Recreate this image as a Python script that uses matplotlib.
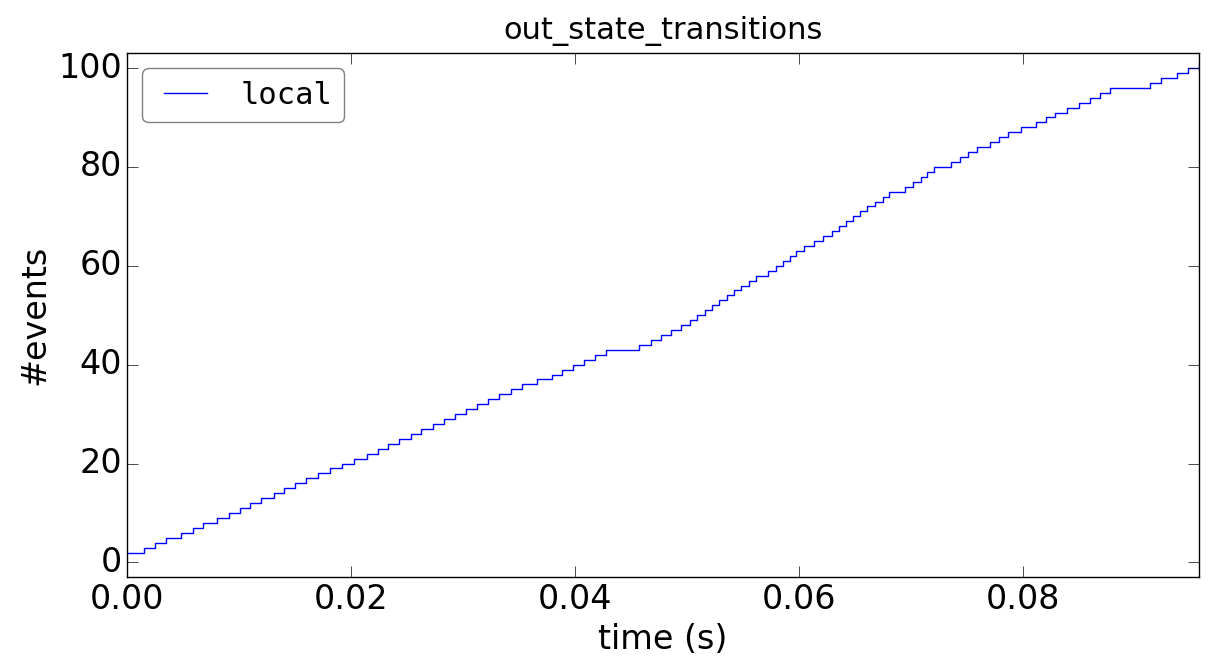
import matplotlib
matplotlib.use("Agg")
import matplotlib.pyplot as plt

# time (s) at which the cumulative count steps up by one
step_times = [
    0.0, 0.00148, 0.00244, 0.00343, 0.00479, 0.00588, 0.00678, 0.00798, 0.00907, 0.01003,
    0.01098, 0.01194, 0.01315, 0.01404, 0.01494, 0.01593, 0.01707, 0.01809, 0.01918,
    0.02023, 0.02138, 0.02237, 0.02326, 0.02425, 0.02530, 0.02620, 0.02728, 0.02827,
    0.02925, 0.03021, 0.03123, 0.03225, 0.03324, 0.03426, 0.03525, 0.03655, 0.03789,
    0.03882, 0.03984, 0.04077, 0.04175, 0.04279, 0.04574, 0.04679, 0.04765, 0.04859,
    0.04942, 0.05026, 0.05092, 0.05158, 0.05221, 0.05287, 0.05353, 0.05421, 0.05484,
    0.05550, 0.05613, 0.05724, 0.05794, 0.05860, 0.05922, 0.05974, 0.06047, 0.06134,
    0.06214, 0.06294, 0.06356, 0.06415, 0.06481, 0.06544, 0.06606, 0.06676, 0.06746,
    0.06804, 0.06944, 0.07013, 0.07086, 0.07138, 0.07205, 0.07354, 0.07433, 0.07506,
    0.07587, 0.07701, 0.07780, 0.07864, 0.07979, 0.08118, 0.08201, 0.08288, 0.08388,
    0.08496, 0.08594, 0.08688, 0.08774, 0.09129, 0.09229, 0.09371, 0.09469, 0.09566,
]
counts = list(range(2, 2 + len(step_times)))
end_time = 0.09566

plt.style.use("classic")
fig = plt.figure(figsize=(12.23, 6.65), dpi=100)
ax = fig.add_axes([0.104, 0.132, 0.876, 0.788])

ax.step(step_times + [end_time], counts + [counts[-1]], where="post", color="blue", lw=1, label="local")

ax.set_xlim(0, end_time)
ax.set_ylim(-3, 103)
ax.set_xticks([0.0, 0.02, 0.04, 0.06, 0.08])
ax.set_yticks([0, 20, 40, 60, 80, 100])
ax.tick_params(labelsize=24, length=8)
ax.set_xlabel("time (s)", fontsize=24)
ax.set_ylabel("#events", fontsize=24)
ax.set_title("out_state_transitions", fontsize=22, pad=10)

leg = ax.legend(loc="upper left", prop={"family": "monospace", "size": 22}, fancybox=True)
leg.get_frame().set_edgecolor("gray")

fig.savefig("out.png", dpi=100)
